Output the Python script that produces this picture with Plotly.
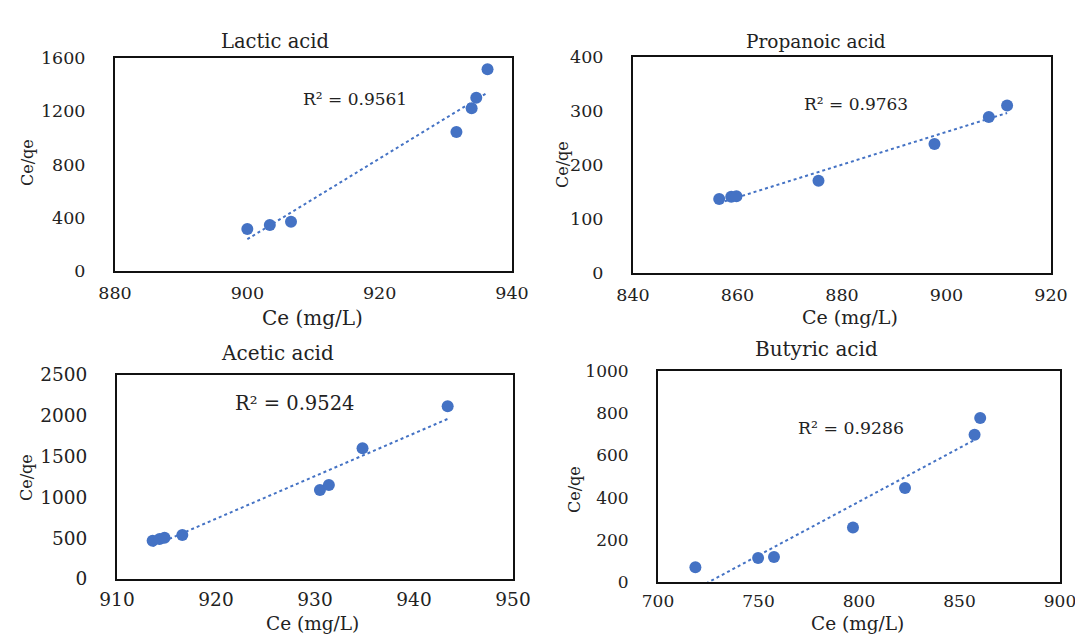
import numpy as np
import plotly.graph_objects as go

# ---- data ----
lactic_ce = [900.0, 903.4, 906.6, 931.6, 933.9, 934.6, 936.3]
lactic_ceqe = [315, 345, 370, 1044, 1222, 1302, 1515]

propanoic_ce = [856.5, 858.8, 859.8, 875.5, 897.7, 908.1, 911.6]
propanoic_ceqe = [137, 141, 142, 171, 239, 289, 310]

acetic_ce = [913.6, 914.3, 914.8, 916.6, 930.5, 931.4, 934.8, 943.4]
acetic_ceqe = [470, 490, 505, 538, 1092, 1153, 1602, 2116]

butyric_ce = [718.6, 749.8, 757.7, 797.0, 822.9, 857.5, 860.3]
butyric_ceqe = [70, 114, 118, 258, 445, 698, 777]

titles = ["Lactic acid", "Propanoic acid", "Acetic acid", "Butyric acid"]
r2_labels = ["R² = 0.9561", "R² = 0.9763", "R² = 0.9524", "R² = 0.9286"]
x_ranges = [[880, 940], [840, 920], [910, 950], [700, 900]]
x_dticks = [20, 20, 10, 50]
y_ranges = [[0, 1600], [0, 400], [0, 2500], [0, 1000]]
y_dticks = [400, 100, 500, 200]

series = [
    (lactic_ce, lactic_ceqe),
    (propanoic_ce, propanoic_ceqe),
    (acetic_ce, acetic_ceqe),
    (butyric_ce, butyric_ceqe),
]

W, H = 1075, 635
# plot-area boxes in pixels: left, right, top, bottom
boxes = [(115, 512, 58, 271), (633, 1051, 57, 273), (117, 513, 375, 579), (658, 1060, 371, 582)]
title_pos = [(275, 42), (816, 42), (277, 353), (816, 349)]
title_size = [19.5, 18.5, 20, 20]
xtitle_pos = [(312, 318), (850, 317), (312, 623), (857, 623)]
xtitle_size = [20, 19, 18.5, 18.5]
ytitle_pos = [(27, 163), (562, 165), (26, 478), (574, 490)]
r2_pos = [(355, 99), (856, 104), (294, 403), (851, 428)]
r2_size = [17, 17, 19.5, 17.3]
tick_size = [17.5, 17.5, 18.5, 17]
x_standoff = [5, 5, 3, 3]

FONT = "DejaVu Serif"
BLUE = "#4472C4"
TXT = "#222222"

fig = go.Figure()
layout = dict(
    width=W, height=H, margin=dict(l=0, r=0, t=0, b=0, autoexpand=False),
    paper_bgcolor="white", plot_bgcolor="white", showlegend=False,
    font=dict(family=FONT, size=16, color=TXT),
)
annotations = []


def px(x):
    return x / W


def py(y):
    return 1 - y / H


for i, ((xs, ys), title) in enumerate(zip(series, titles)):
    n = "" if i == 0 else str(i + 1)
    xa, ya = "x" + n, "y" + n
    l, r, t, b = boxes[i]
    layout["xaxis" + n] = dict(
        domain=[px(l), px(r)], anchor=ya, range=x_ranges[i], dtick=x_dticks[i],
        tick0=x_ranges[i][0], showgrid=False, zeroline=False, showline=True,
        linecolor="#111111", linewidth=2, mirror=True, ticks="", automargin=False,
        ticklabeloverflow="allow",
        ticklabelstandoff=x_standoff[i], tickfont=dict(family=FONT, size=tick_size[i], color=TXT),
    )
    layout["yaxis" + n] = dict(
        domain=[py(b), py(t)], anchor=xa, range=y_ranges[i], dtick=y_dticks[i],
        showgrid=False, zeroline=False, showline=True, automargin=False,
        linecolor="#111111", linewidth=2, mirror=True, ticks="",
        ticklabeloverflow="allow",
        ticklabelstandoff=24, tickfont=dict(family=FONT, size=tick_size[i], color=TXT),
    )
    # least-squares trendline over the data range
    coef = np.polyfit(xs, ys, 1)
    tx = np.array([min(xs), max(xs)])
    ty = np.polyval(coef, tx)
    fig.add_trace(go.Scatter(x=tx, y=ty, mode="lines", xaxis=xa, yaxis=ya,
                             line=dict(color=BLUE, width=2, dash="dot"), hoverinfo="skip"))
    fig.add_trace(go.Scatter(x=xs, y=ys, mode="markers", xaxis=xa, yaxis=ya,
                             marker=dict(color=BLUE, size=12)))
    annotations.append(dict(text=title, x=px(title_pos[i][0]), y=py(title_pos[i][1]),
                            xref="paper", yref="paper", showarrow=False,
                            xanchor="center", yanchor="middle",
                            font=dict(family=FONT, size=title_size[i], color=TXT)))
    annotations.append(dict(text="Ce (mg/L)", x=px(xtitle_pos[i][0]), y=py(xtitle_pos[i][1]),
                            xref="paper", yref="paper", showarrow=False,
                            xanchor="center", yanchor="middle",
                            font=dict(family=FONT, size=xtitle_size[i], color=TXT)))
    annotations.append(dict(text="Ce/qe", x=px(ytitle_pos[i][0]), y=py(ytitle_pos[i][1]),
                            xref="paper", yref="paper", showarrow=False, textangle=-90,
                            xanchor="center", yanchor="middle",
                            font=dict(family=FONT, size=16, color=TXT)))
    annotations.append(dict(text=r2_labels[i], x=px(r2_pos[i][0]), y=py(r2_pos[i][1]),
                            xref="paper", yref="paper", showarrow=False,
                            xanchor="center", yanchor="middle",
                            font=dict(family=FONT, size=r2_size[i], color=TXT)))

layout["annotations"] = annotations
fig.update_layout(**layout)
fig.write_html("out.html")
